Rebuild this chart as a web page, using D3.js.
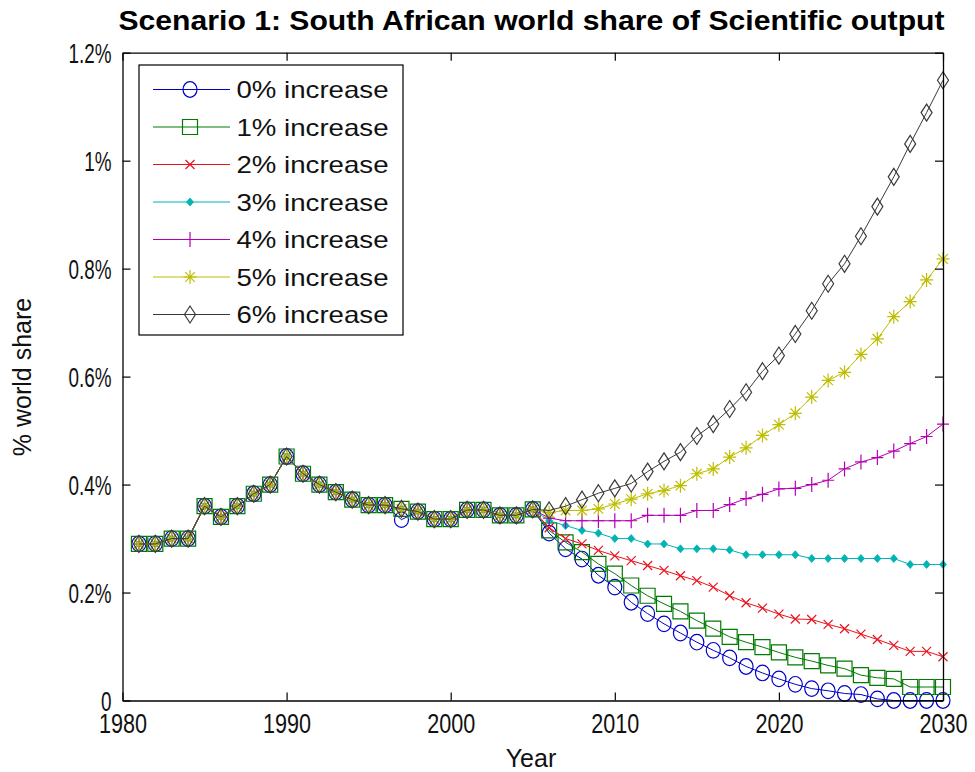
<!DOCTYPE html>
<html>
<head>
<meta charset="utf-8">
<script src="https://cdn.jsdelivr.net/npm/d3@7"></script>
<style>
  html, body { margin: 0; padding: 0; background: #fff; }
  svg { display: block; font-family: "Liberation Sans", Arial, sans-serif; }
</style>
</head>
<body>
<svg id="chart" width="975" height="772"></svg>
<script>
// Observed world share (%) 1981–2005, common to every scenario
const historyYears = [1981,1982,1983,1984,1985,1986,1987,1988,1989,1990,1991,1992,1993,
  1994,1995,1996,1997,1998,1999,2000,2001,2002,2003,2004,2005];
const historyShare = [0.29,0.29,0.30,0.30,0.36,0.34,0.36,0.383,0.40,0.452,0.42,0.40,0.386,
  0.372,0.362,0.362,0.355,0.35,0.336,0.336,0.353,0.353,0.343,0.343,0.354];
// The 0% run carries a slightly lower 1997 figure
const historyShareFlat = [0.29,0.29,0.30,0.30,0.36,0.34,0.36,0.383,0.40,0.452,0.42,0.40,0.386,
  0.372,0.362,0.362,0.335,0.35,0.336,0.336,0.353,0.353,0.343,0.343,0.354];

// Projected world share (%) 2006–2030 per annual increase scenario
const projYears = [2006,2007,2008,2009,2010,2011,2012,2013,2014,2015,2016,2017,2018,
  2019,2020,2021,2022,2023,2024,2025,2026,2027,2028,2029,2030];
const proj0 = [0.31,0.281,0.262,0.232,0.21,0.182,0.161,0.142,0.125,0.108,0.093,0.079,0.063,
  0.051,0.04,0.03,0.022,0.018,0.013,0.011,0.003,0,0,0,0];
const proj1 = [0.315,0.293,0.275,0.253,0.235,0.213,0.194,0.179,0.165,0.148,0.133,0.118,0.108,
  0.099,0.089,0.08,0.073,0.065,0.059,0.047,0.042,0.04,0.025,0.025,0.025];
const proj2 = [0.32,0.30,0.29,0.278,0.268,0.259,0.25,0.241,0.231,0.222,0.21,0.194,0.181,
  0.171,0.16,0.151,0.15,0.141,0.133,0.123,0.113,0.102,0.091,0.091,0.081];
const proj3 = [0.333,0.324,0.315,0.31,0.30,0.30,0.29,0.29,0.281,0.281,0.281,0.279,0.27,
  0.27,0.27,0.27,0.263,0.263,0.263,0.263,0.263,0.263,0.252,0.252,0.252];
const proj4 = [0.338,0.333,0.333,0.333,0.333,0.333,0.343,0.343,0.343,0.352,0.352,0.363,0.374,
  0.382,0.392,0.393,0.40,0.408,0.429,0.442,0.45,0.462,0.476,0.489,0.512];
const proj5 = [0.348,0.352,0.352,0.355,0.364,0.373,0.383,0.389,0.398,0.42,0.429,0.451,0.468,
  0.491,0.511,0.532,0.562,0.593,0.608,0.641,0.67,0.711,0.739,0.779,0.818];
const proj6 = [0.352,0.36,0.372,0.384,0.393,0.402,0.424,0.443,0.46,0.49,0.512,0.54,0.571,
  0.61,0.639,0.679,0.722,0.772,0.809,0.86,0.915,0.97,1.031,1.089,1.149];

const seriesNames = ["0% increase","1% increase","2% increase","3% increase",
  "4% increase","5% increase","6% increase"];
const seriesColors = ["#0000c8","#007a00","#e8141e","#00b4b4","#b400b4","#bebe00","#3a3a3a"];
const seriesMarkers = ["circle","square","x","point","plus","star","diamond"];

const xTicks = [1980,1990,2000,2010,2020,2030];
const xTickLabels = ["1980","1990","2000","2010","2020","2030"];
const yTicks = [0,0.2,0.4,0.6,0.8,1.0,1.2];
const yTickLabels = ["0","0.2%","0.4%","0.6%","0.8%","1%","1.2%"];

const titleText = "Scenario 1: South African world share of Scientific output";
const xTitle = "Year";
const yTitle = "% world share";

// ---- assemble series -------------------------------------------------------
const projections = [proj0, proj1, proj2, proj3, proj4, proj5, proj6];
const series = seriesNames.map((name, i) => {
  const hist = i === 0 ? historyShareFlat : historyShare;
  const pts = historyYears.map((yr, k) => ({year: yr, value: hist[k]}))
    .concat(projYears.map((yr, k) => ({year: yr, value: projections[i][k]})));
  return {name, color: seriesColors[i], marker: seriesMarkers[i], points: pts};
});

// ---- layout ---------------------------------------------------------------
const svg = d3.select("#chart");
const X0 = 122.5, X1 = 943, Y0 = 700.5, Y1 = 52.7;
const x = d3.scaleLinear().domain([1980, 2030]).range([X0, X1]);
const y = d3.scaleLinear().domain([0, 1.2]).range([Y0, Y1]);

svg.append("rect").attr("width", 975).attr("height", 772).attr("fill", "#fff");

// marker shapes, in the style of classic plot markers
function markerPath(type) {
  switch (type) {
    case "square": return "M-7.5,-7.5H7.5V7.5H-7.5Z";
    case "x": return "M-4.5,-4.5L4.5,4.5M-4.5,4.5L4.5,-4.5";
    case "plus": return "M0,-7.5V7.5M-6,0H6";
    case "star": return "M0,-7V7M-6.5,0H6.5M-4.8,-4.8L4.8,4.8M-4.8,4.8L4.8,-4.8";
    case "diamond": return "M0,-8.5L5.5,0L0,8.5L-5.5,0Z";
    default: return null;
  }
}
function drawMarker(g, type, color) {
  if (type === "circle") {
    g.append("ellipse").attr("rx", 7).attr("ry", 7.8)
      .attr("fill", "none").attr("stroke", color).attr("stroke-width", 1.2);
  } else if (type === "point") {
    g.append("path").attr("d", "M0,-4L3.5,0L0,4L-3.5,0Z").attr("fill", color).attr("stroke", color)
      .attr("stroke-width", 0.8);
  } else {
    g.append("path").attr("d", markerPath(type))
      .attr("fill", "none").attr("stroke", color).attr("stroke-width", 1.2);
  }
}

const plot = svg.append("g");
const line = d3.line().x(d => x(d.year)).y(d => y(d.value));

series.forEach(s => {
  const g = plot.append("g");
  g.append("path").datum(s.points).attr("d", line)
    .attr("fill", "none").attr("stroke", s.color).attr("stroke-width", 1);
  g.selectAll("g.m").data(s.points).join("g").attr("class", "m")
    .attr("transform", d => `translate(${x(d.year)},${y(d.value)})`)
    .each(function () { drawMarker(d3.select(this), s.marker, s.color); });
});

// ---- axes (inward ticks, boxed) -----------------------------------------
const tickFont = 27;
const axB = svg.append("g").attr("transform", `translate(0,${Y0})`)
  .call(d3.axisBottom(x).tickValues(xTicks).tickFormat((d, i) => xTickLabels[i])
    .tickSizeInner(-8).tickSizeOuter(0).tickPadding(8));
const axT = svg.append("g").attr("transform", `translate(0,${Y1})`)
  .call(d3.axisTop(x).tickValues(xTicks).tickFormat("").tickSizeInner(-8).tickSizeOuter(0));
const axL = svg.append("g").attr("transform", `translate(${X0},0)`)
  .call(d3.axisLeft(y).tickValues(yTicks).tickFormat((d, i) => yTickLabels[i])
    .tickSizeInner(-8).tickSizeOuter(0).tickPadding(11));
const axR = svg.append("g").attr("transform", `translate(${X1},0)`)
  .call(d3.axisRight(y).tickValues(yTicks).tickFormat("").tickSizeInner(-8).tickSizeOuter(0));

[axB, axT, axL, axR].forEach(a => {
  a.select(".domain").attr("stroke", "#000").attr("stroke-width", 1.3);
  a.selectAll(".tick line").attr("stroke", "#000").attr("stroke-width", 1.2);
  a.selectAll("text").attr("font-size", tickFont).attr("fill", "#111")
    .attr("font-family", "'Liberation Sans', Arial, sans-serif");
});
// narrow tick lettering: horizontal squeeze about each tick's own origin
axB.selectAll(".tick text").attr("y", 33).attr("dy", "0")
  .attr("transform", "scale(0.8,1)");
axL.selectAll(".tick text").attr("dy", "0.36em")
  .attr("x", -11 / 0.7).attr("transform", "scale(0.7,1)");

// ---- titles ---------------------------------------------------------------
svg.append("text").attr("x", 531.5).attr("y", 30).attr("text-anchor", "middle")
  .attr("font-size", 28).attr("font-weight", "bold").attr("fill", "#000")
  .attr("textLength", 826).attr("lengthAdjust", "spacingAndGlyphs")
  .text(titleText);
svg.append("text").attr("x", 531).attr("y", 767)
  .attr("text-anchor", "middle")
  .attr("font-size", 25).attr("fill", "#111")
  .text(xTitle);
svg.append("text").attr("transform", "translate(31,377) rotate(-90)")
  .attr("text-anchor", "middle").attr("font-size", 25).attr("fill", "#111")
  .text(yTitle);

// ---- legend ---------------------------------------------------------------
const legend = svg.append("g");
legend.append("rect").attr("x", 139).attr("y", 65).attr("width", 264).attr("height", 270)
  .attr("fill", "#fff").attr("stroke", "#000").attr("stroke-width", 1.2);
series.forEach((s, i) => {
  const ly = 89.5 + i * 37.5;
  const row = legend.append("g");
  row.append("line").attr("x1", 153).attr("x2", 230).attr("y1", ly).attr("y2", ly)
    .attr("stroke", s.color).attr("stroke-width", 1.2);
  const mg = row.append("g").attr("transform", `translate(190,${ly})`);
  drawMarker(mg, s.marker, s.color);
  row.append("text").attr("x", 236.5).attr("y", ly).attr("dy", "0.36em")
    .attr("font-size", 24).attr("fill", "#111")
    .attr("textLength", 152).attr("lengthAdjust", "spacingAndGlyphs")
    .text(s.name);
});
</script>
</body>
</html>
